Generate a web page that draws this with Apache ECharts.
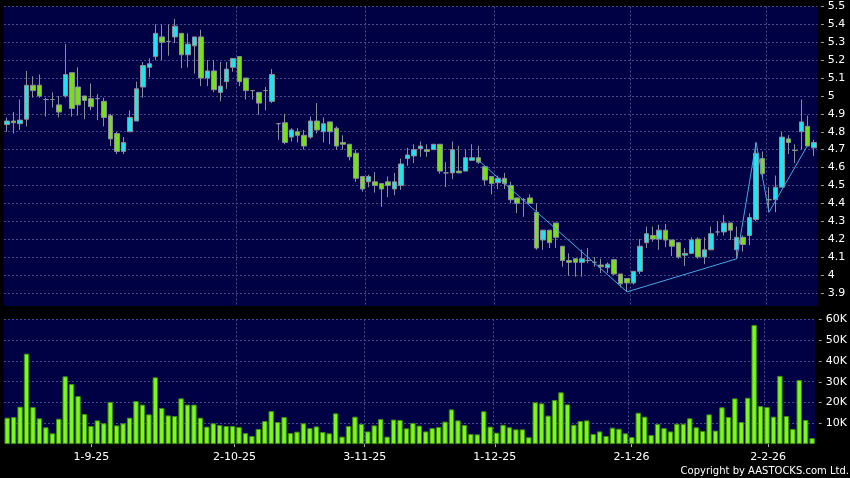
<!DOCTYPE html>
<html>
<head>
<meta charset="utf-8">
<script src="https://cdn.jsdelivr.net/npm/echarts@6/dist/echarts.min.js"></script>
<style>
  html, body { margin: 0; padding: 0; background: #000; }
  #chart { width: 850px; height: 478px; }
</style>
</head>
<body>
<div id="chart"></div>
<script>
// trading days, D-M-YY
const dates = [
  '13-8-25','14-8-25','15-8-25','18-8-25','19-8-25','20-8-25','21-8-25','22-8-25','25-8-25','26-8-25','27-8-25','28-8-25','29-8-25',
  '1-9-25','2-9-25','3-9-25','4-9-25','5-9-25','8-9-25','9-9-25','10-9-25','11-9-25','12-9-25','15-9-25','16-9-25','17-9-25','18-9-25','19-9-25','22-9-25','23-9-25','24-9-25','25-9-25','26-9-25','29-9-25','30-9-25',
  '2-10-25','3-10-25','6-10-25','8-10-25','9-10-25','10-10-25','13-10-25','14-10-25','15-10-25','16-10-25','17-10-25','20-10-25','21-10-25','22-10-25','23-10-25','24-10-25','27-10-25','28-10-25','30-10-25','31-10-25',
  '3-11-25','4-11-25','5-11-25','6-11-25','7-11-25','10-11-25','11-11-25','12-11-25','13-11-25','14-11-25','17-11-25','18-11-25','19-11-25','20-11-25','21-11-25','24-11-25','25-11-25','26-11-25','27-11-25','28-11-25',
  '1-12-25','2-12-25','3-12-25','4-12-25','5-12-25','8-12-25','9-12-25','10-12-25','11-12-25','12-12-25','15-12-25','16-12-25','17-12-25','18-12-25','19-12-25','22-12-25','23-12-25','24-12-25','29-12-25','30-12-25','31-12-25',
  '2-1-26','5-1-26','6-1-26','7-1-26','8-1-26','9-1-26','12-1-26','13-1-26','14-1-26','15-1-26','16-1-26','19-1-26','20-1-26','21-1-26','22-1-26','23-1-26','26-1-26','27-1-26','28-1-26','29-1-26','30-1-26',
  '2-2-26','3-2-26','4-2-26','5-2-26','6-2-26','9-2-26','10-2-26','11-2-26','12-2-26'
];
const tickLabels = ['1-9-25', '2-10-25', '3-11-25', '1-12-25', '2-1-26', '2-2-26'];

const opens = [
  4.84,4.86,4.845,4.87,5.06,5.06,4.98,4.98,4.95,5.00,5.13,5.05,5.00,4.985,4.985,4.97,4.89,4.79,4.69,4.80,
  4.86,5.05,5.16,5.22,5.33,5.305,5.33,5.35,5.23,5.28,5.33,5.10,5.14,5.02,5.08,5.16,5.22,5.10,5.03,5.02,
  5.03,4.97,4.845,4.85,4.77,4.80,4.78,4.77,4.86,4.80,4.855,4.82,4.74,4.73,4.68,4.55,4.52,4.52,4.51,4.52,
  4.48,4.50,4.65,4.665,4.705,4.70,4.70,4.73,4.57,4.57,4.58,4.58,4.64,4.655,4.605,4.55,4.515,4.54,4.50,4.43,
  4.42,4.43,4.35,4.195,4.25,4.29,4.16,4.08,4.09,4.07,4.08,4.07,4.055,4.04,4.085,4.005,3.98,3.955,4.02,4.18,
  4.22,4.20,4.25,4.195,4.18,4.11,4.12,4.20,4.10,4.14,4.24,4.24,4.29,4.14,4.21,4.22,4.31,4.65,4.42,4.42,
  4.49,4.76,4.695,4.80,4.83,4.71
];
const closes = [
  4.86,4.85,4.865,5.06,5.03,5.00,4.98,4.98,4.91,5.12,4.93,4.95,4.975,4.94,4.985,4.88,4.76,4.69,4.74,4.88,
  5.04,5.17,5.18,5.35,5.30,5.305,5.39,5.23,5.29,5.33,5.10,5.14,5.035,5.055,5.15,5.21,5.08,5.03,5.03,4.96,
  5.03,5.12,4.845,4.74,4.81,4.78,4.72,4.86,4.81,4.845,4.80,4.72,4.73,4.66,4.54,4.48,4.55,4.50,4.48,4.50,
  4.52,4.62,4.67,4.70,4.72,4.69,4.73,4.58,4.57,4.70,4.57,4.655,4.655,4.63,4.53,4.51,4.54,4.51,4.42,4.40,
  4.42,4.40,4.15,4.25,4.18,4.21,4.08,4.07,4.07,4.09,4.08,4.07,4.045,4.06,4.005,3.95,3.955,4.02,4.16,4.23,
  4.20,4.25,4.195,4.16,4.10,4.12,4.195,4.10,4.14,4.23,4.24,4.29,4.25,4.21,4.17,4.32,4.68,4.565,4.42,4.49,
  4.77,4.74,4.695,4.855,4.72,4.74
];
const lows = [
  4.80,4.79,4.81,4.83,4.99,4.99,4.885,4.935,4.88,4.99,4.885,4.89,4.87,4.92,4.865,4.83,4.72,4.675,4.675,4.80,
  4.86,4.99,5.105,5.20,5.20,5.225,5.295,5.155,5.16,5.125,5.055,5.055,5.02,4.97,5.04,5.135,5.055,4.98,4.98,4.895,
  4.92,4.96,4.755,4.73,4.745,4.74,4.70,4.76,4.79,4.74,4.73,4.70,4.70,4.64,4.52,4.465,4.49,4.46,4.38,4.435,
  4.445,4.475,4.61,4.625,4.66,4.66,4.70,4.565,4.49,4.535,4.57,4.58,4.64,4.62,4.50,4.45,4.48,4.48,4.40,4.345,
  4.325,4.40,4.14,4.14,4.15,4.15,4.045,3.995,3.99,3.99,4.065,4.045,4.01,4.01,4.00,3.93,3.905,3.945,4.005,4.15,
  4.185,4.14,4.155,4.105,4.09,4.05,4.12,4.09,4.06,4.14,4.22,4.22,4.195,4.09,4.13,4.165,4.30,4.54,4.35,4.35,
  4.49,4.675,4.625,4.70,4.72,4.665
];
const highs = [
  4.88,4.91,4.98,5.14,5.11,5.12,4.99,5.02,5.00,5.29,5.13,5.16,5.00,5.07,5.01,4.99,4.90,4.80,4.77,4.92,
  5.08,5.19,5.21,5.40,5.40,5.40,5.43,5.35,5.35,5.33,5.37,5.20,5.20,5.19,5.19,5.21,5.22,5.10,5.03,5.02,
  5.05,5.15,4.85,4.90,4.82,4.82,4.81,4.885,4.96,4.88,4.855,4.83,4.78,4.73,4.70,4.55,4.56,4.575,4.51,4.55,
  4.57,4.65,4.71,4.73,4.745,4.73,4.73,4.73,4.63,4.745,4.72,4.70,4.73,4.72,4.605,4.55,4.555,4.57,4.52,4.43,
  4.43,4.45,4.40,4.25,4.25,4.29,4.16,4.12,4.09,4.14,4.15,4.10,4.09,4.07,4.085,4.005,3.98,4.02,4.20,4.27,
  4.27,4.28,4.285,4.195,4.18,4.15,4.21,4.21,4.21,4.27,4.30,4.335,4.29,4.27,4.22,4.345,4.74,4.69,4.49,4.555,
  4.80,4.78,4.73,4.98,4.89,4.755
];
const volumes = [
  12700,13000,18000,43500,17800,12400,8100,5200,12200,32600,28900,23100,14500,8700,11400,10000,20300,9000,10000,12700,
  20700,19000,14300,32100,17400,13800,13500,22000,19000,19000,12700,8400,10000,9200,8700,8700,8200,5300,3900,7300,
  11100,15900,10600,13000,5300,6000,10000,7700,8500,5800,5200,14800,3600,8700,13200,9700,6100,9000,12100,3600,
  11800,11600,7600,10200,8900,6100,7700,8200,10800,16700,11400,9200,4900,4700,15800,8400,5500,9300,8100,7100,
  7100,3300,20100,19600,13700,21200,24900,19100,9300,11100,11400,4900,6100,3900,7900,7400,5200,3400,15100,13200,
  4400,9700,7700,6100,9800,9800,12400,8100,6300,14300,6500,17700,13000,22000,10600,22300,57300,18300,17800,13200,
  32800,13500,7300,30800,11600,2900
];
// zigzag turning points: [day index, price]
const zigzagIdx = [73, 96, 113, 116, 118, 124];
const zigzagVal = [4.64, 3.905, 4.09, 4.74, 4.35, 4.725];

const candleData = opens.map((o, i) => [o, closes[i], lows[i], highs[i]]);
const zigzagData = zigzagIdx.map((d, i) => [dates[d], zigzagVal[i]]);

const FONT = 'DejaVu Sans';
const gridLine = { color: '#4a4a8a', type: [2, 2], width: 1 };
const isLabelDay = (idx) => tickLabels.indexOf(dates[idx]) >= 0;
const afterLabelDay = (idx) => idx > 0 && tickLabels.indexOf(dates[idx - 1]) >= 0;

const chart = echarts.init(document.getElementById('chart'));
chart.setOption({
  animation: false,
  backgroundColor: '#000000',
  grid: [
    { left: 4, right: 32.6, top: 6.5, bottom: 172, show: true, backgroundColor: '#000044', borderWidth: 0 },
    { left: 4, right: 32.6, top: 319.3, bottom: 33.9, show: true, backgroundColor: '#000044', borderWidth: 0 },
    { left: 6.8, right: 29.8, top: 319.3, bottom: 33.9, show: false }
  ],
  xAxis: [
    {
      gridIndex: 0, type: 'category', data: dates, boundaryGap: true,
      axisLine: { show: false }, axisTick: { show: false }, axisLabel: { show: false },
      splitLine: { show: true, interval: afterLabelDay, showMinLine: false, showMaxLine: false, lineStyle: gridLine }
    },
    {
      gridIndex: 1, type: 'category', data: dates, boundaryGap: true,
      axisLine: { show: false }, axisTick: { show: false }, axisLabel: { show: false },
      splitLine: { show: true, interval: afterLabelDay, showMinLine: false, showMaxLine: false, lineStyle: gridLine }
    },
    {
      gridIndex: 2, type: 'category', data: dates, boundaryGap: false, offset: 2.5,
      axisLine: { show: false },
      axisTick: { show: true, interval: isLabelDay, length: 3, lineStyle: { color: '#b0b0b0' } },
      axisLabel: { show: true, interval: isLabelDay, margin: 5, color: '#ffffff', fontSize: 11, fontFamily: FONT },
      splitLine: { show: false }
    }
  ],
  yAxis: [
    {
      gridIndex: 0, type: 'value', position: 'right', min: 3.826, max: 5.5,
      splitNumber: 16, minInterval: 0.1, maxInterval: 0.1,
      axisLine: { show: false }, axisTick: { show: false },
      axisLabel: {
        showMinLabel: false, margin: 3, color: '#ffffff', fontSize: 11, fontFamily: FONT,
        formatter: (v) => '{t|-} ' + v,
        rich: { t: { color: '#b0b0b0', fontSize: 11, fontFamily: FONT } }
      },
      splitLine: { show: true, showMinLine: false, lineStyle: gridLine }
    },
    {
      gridIndex: 1, type: 'value', position: 'right', min: 0, max: 60000, interval: 10000,
      axisLine: { show: false }, axisTick: { show: false },
      axisLabel: {
        showMinLabel: false, margin: 3, color: '#ffffff', fontSize: 11, fontFamily: FONT,
        formatter: (v) => '{t|-} ' + (v / 1000) + 'K',
        rich: { t: { color: '#b0b0b0', fontSize: 11, fontFamily: FONT } }
      },
      splitLine: { show: true, showMinLine: false, lineStyle: gridLine }
    },
    { gridIndex: 2, type: 'value', show: false }
  ],
  series: [
    {
      type: 'candlestick', xAxisIndex: 0, yAxisIndex: 0,
      data: candleData, barWidth: 5,
      itemStyle: {
        color: '#22e2ee', color0: '#78de1c',
        borderColor: '#8a8f96', borderColor0: '#8a8f96', borderColorDoji: '#8a8f96',
        borderWidth: 1
      }
    },
    {
      type: 'line', xAxisIndex: 0, yAxisIndex: 0, data: zigzagData,
      symbol: 'none', z: 5, silent: true,
      lineStyle: { color: '#48a6e0', width: 1 }
    },
    {
      type: 'bar', xAxisIndex: 1, yAxisIndex: 1, data: volumes, barWidth: 5.4,
      itemStyle: { color: '#7ef81c', borderColor: '#3d8c0a', borderWidth: 1 }
    }
  ],
  graphic: [
    {
      type: 'text', right: 1, top: 466,
      style: { text: 'Copyright by AASTOCKS.com Ltd.', fill: '#ffffff', font: '10px "DejaVu Sans"' }
    }
  ]
});
</script>
</body>
</html>
